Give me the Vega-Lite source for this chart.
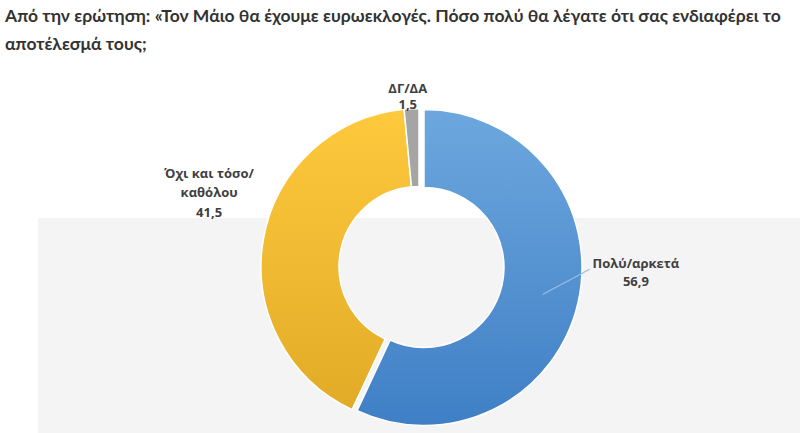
{
  "$schema": "https://vega.github.io/schema/vega-lite/v6.json",
  "width": 762,
  "height": 215,
  "autosize": {"type": "none"},
  "padding": {"left": 38, "top": 218, "right": 0, "bottom": 0},
  "background": "white",
  "view": {"fill": "#f4f4f4", "stroke": null},
  "title": {
    "text": ["Από την ερώτηση: «Τον Μάιο θα έχουμε ευρωεκλογές. Πόσο πολύ θα λέγατε ότι σας ενδιαφέρει το", "αποτέλεσμά τους;"],
    "anchor": "start",
    "frame": "group",
    "font": "Lato",
    "fontSize": 17.5,
    "fontWeight": "bold",
    "color": "#333333",
    "lineHeight": 28,
    "dx": -33,
    "offset": -60
  },
  "data": {
    "values": [
      {"cat": "Πολύ/αρκετά", "value": 56.9, "ord": 1, "label": "Πολύ/αρκετά\n56,9"},
      {"cat": "Όχι και τόσο/καθόλου", "value": 41.5, "ord": 2, "label": "Όχι και τόσο/\nκαθόλου\n41,5"},
      {"cat": "ΔΓ/ΔΑ", "value": 1.5, "ord": 3, "label": "ΔΓ/ΔΑ\n1,5"}
    ]
  },
  "encoding": {
    "theta": {"field": "value", "type": "quantitative", "stack": true},
    "order": {"field": "ord", "type": "quantitative"}
  },
  "layer": [
    {
      "mark": {"type": "arc", "outerRadius": 158, "innerRadius": 80, "yOffset": -59, "stroke": "white", "strokeWidth": 1.5},
      "encoding": {
        "fill": {
          "condition": {"test": "datum.ord === 2", "value": {"gradient": "linear", "x1": 0, "y1": 0, "x2": 0, "y2": 1, "stops": [{"offset": 0, "color": "#fec93d"}, {"offset": 1, "color": "#e2ab27"}]}},
          "value": "#a5a5a5"
        },
        "opacity": {"condition": {"test": "datum.ord === 1", "value": 0}, "value": 1}
      }
    },
    {
      "mark": {"type": "arc", "outerRadius": 158, "innerRadius": 80, "xOffset": 5, "yOffset": -58, "stroke": "white", "strokeWidth": 1.5},
      "encoding": {
        "fill": {"value": {"gradient": "linear", "x1": 0, "y1": 0, "x2": 0, "y2": 1, "stops": [{"offset": 0, "color": "#6da7de"}, {"offset": 1, "color": "#3f7fc5"}]}},
        "opacity": {"condition": {"test": "datum.ord === 1", "value": 1}, "value": 0}
      }
    },
    {
      "mark": {"type": "text", "radius": 215, "yOffset": -59, "dx": 7, "dy": -49, "lineBreak": "\n", "font": "Open Sans", "fontSize": 13, "fontWeight": "bold", "color": "#404040", "lineHeight": 18, "baseline": "middle", "align": "center"},
      "encoding": {"text": {"condition": {"test": "datum.ord === 1", "field": "label"}, "value": ""}}
    },
    {
      "mark": {"type": "text", "radius": 210, "yOffset": -59, "dx": -3, "dy": -57, "lineBreak": "\n", "font": "Open Sans", "fontSize": 13, "fontWeight": "bold", "color": "#404040", "lineHeight": 19.5, "baseline": "middle", "align": "center"},
      "encoding": {"text": {"condition": {"test": "datum.ord === 2", "field": "label"}, "value": ""}}
    },
    {
      "mark": {"type": "text", "radius": 175, "yOffset": -59, "dx": -3, "dy": -3, "lineBreak": "\n", "font": "Open Sans", "fontSize": 13, "fontWeight": "bold", "color": "#404040", "lineHeight": 16, "baseline": "middle", "align": "center"},
      "encoding": {"text": {"condition": {"test": "datum.ord === 3", "field": "label"}, "value": ""}}
    },
    {
      "mark": {"type": "text", "radius": 151, "yOffset": -59, "angle": -28, "dx": 7.8, "dy": -14.75, "font": "DejaVu Sans", "fontSize": 11, "color": "#9dbbe0", "baseline": "middle", "align": "center"},
      "encoding": {"text": {"condition": {"test": "datum.ord === 1", "value": "────────"}, "value": ""}}
    }
  ]
}
